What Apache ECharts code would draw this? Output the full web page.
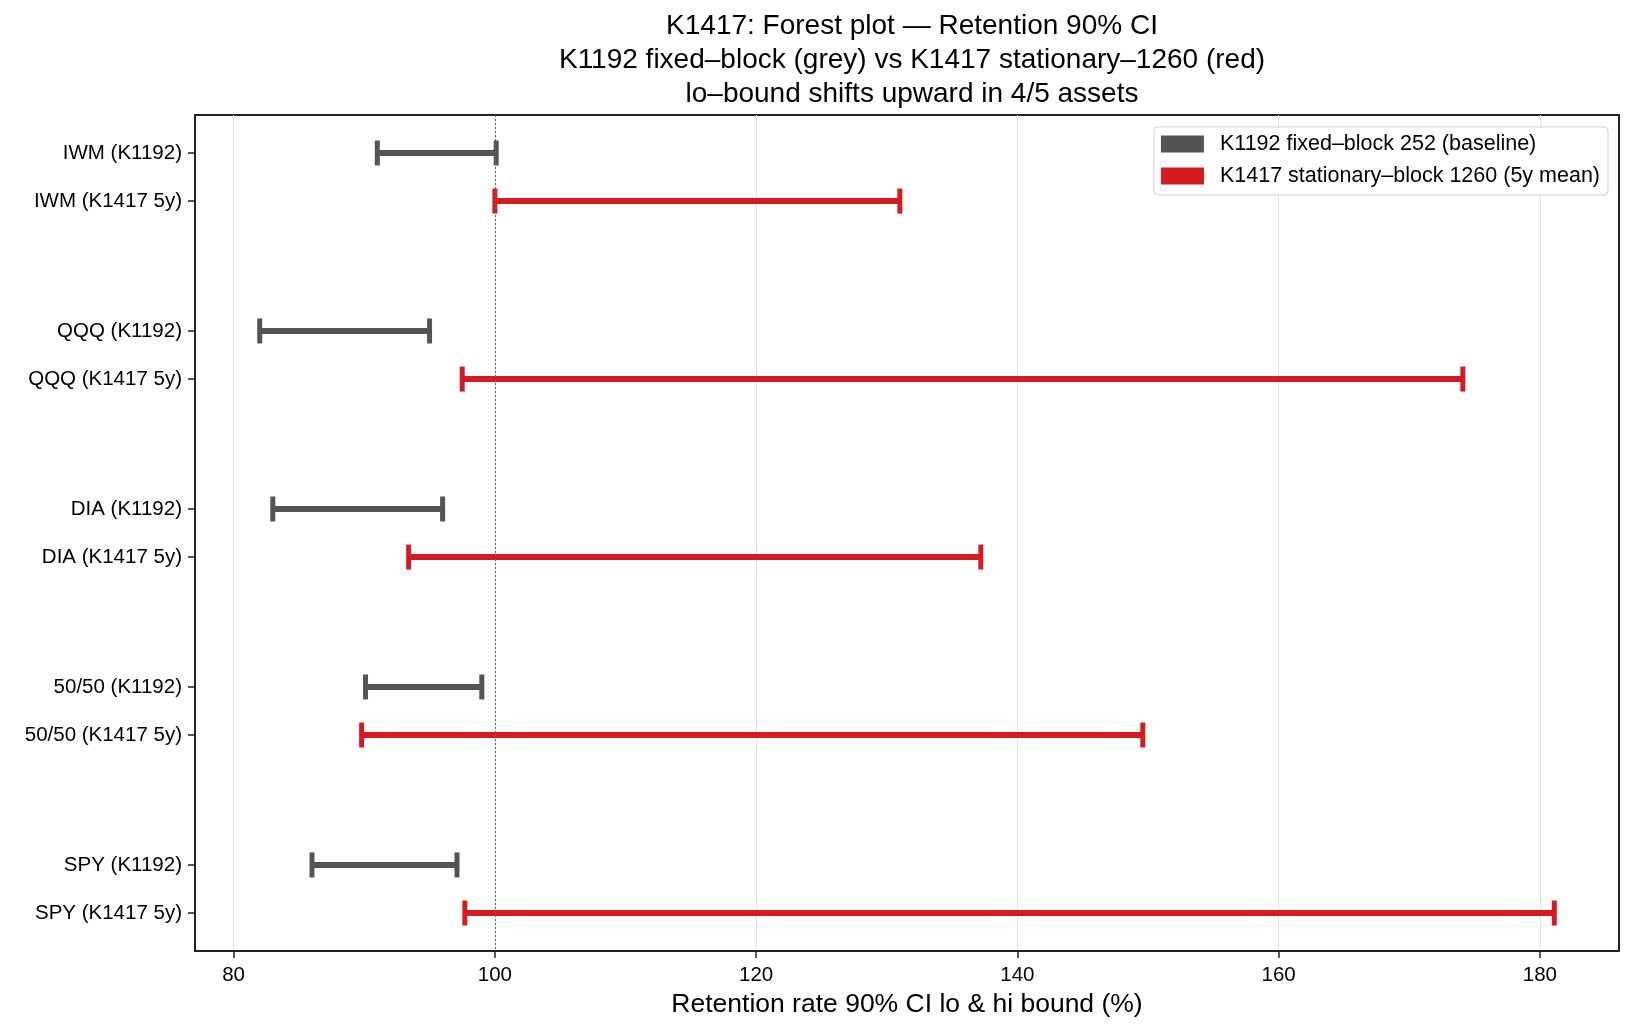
<!DOCTYPE html>
<html>
<head>
<meta charset="utf-8">
<script src="https://cdn.jsdelivr.net/npm/echarts@6/dist/echarts.min.js"></script>
<style>
  html, body { margin: 0; padding: 0; background: #fff; }
  #chart { width: 1633px; height: 1031px; }
</style>
</head>
<body>
<div id="chart"></div>
<script>
// retention 90% CI bounds
var assets = ['IWM', 'QQQ', 'DIA', '50/50', 'SPY']
var baseLo = [91.0, 82.0, 83.0, 90.1, 86.0]
var baseHi = [100.1, 95.0, 96.0, 99.0, 97.1]
var statLo = [100.0, 97.5, 93.4, 89.8, 97.7]
var statHi = [131.0, 174.1, 137.2, 149.6, 181.1]
var xTicks = [80, 100, 120, 140, 160, 180]

var baseName = 'K1192 fixed\u2013block 252 (baseline)'
var statName = 'K1417 stationary\u2013block 1260 (5y mean)'
var GREY = '#545454'
var RED = '#d71a1f'
var FONT = 'Liberation Sans, Arial, sans-serif'

// row layout: one group per asset, baseline on top, stationary below
var yPos = []
var yLabels = {}
assets.forEach(function (a, i) {
  yPos.push(i, i + 0.27)
  yLabels[i] = a + ' (K1192)'
  yLabels[i + 0.27] = a + ' (K1417 5y)'
})
var yMin = yPos[0], yMax = yPos[yPos.length - 1]
var yPad = (yMax - yMin) * 0.05

var allLo = Math.min.apply(null, baseLo.concat(statLo))
var allHi = Math.max.apply(null, baseHi.concat(statHi))
var xPad = (allHi - allLo) * 0.05

function rows(lo, hi, off) {
  return assets.map(function (a, i) { return [lo[i], hi[i], i + off] })
}

function renderCI(params, api) {
  var a = api.coord([api.value(0), api.value(2)])
  var b = api.coord([api.value(1), api.value(2)])
  var color = api.visual('color')
  var half = 12.5
  var st = { stroke: color, lineWidth: 6 }
  var cap = { stroke: color, lineWidth: 5 }
  return {
    type: 'group',
    children: [
      { type: 'line', shape: { x1: a[0], y1: a[1], x2: b[0], y2: b[1] }, style: st },
      { type: 'line', shape: { x1: a[0], y1: a[1] - half, x2: a[0], y2: a[1] + half }, style: cap },
      { type: 'line', shape: { x1: b[0], y1: b[1] - half, x2: b[0], y2: b[1] + half }, style: cap }
    ]
  }
}

var chart = echarts.init(document.getElementById('chart'))
chart.setOption({
  animation: false,
  textStyle: { fontFamily: FONT },
  title: {
    text: 'K1417: Forest plot \u2014 Retention 90% CI\nK1192 fixed\u2013block (grey) vs K1417 stationary\u20131260 (red)\nlo\u2013bound shifts upward in 4/5 assets',
    left: 907,
    top: 4,
    textAlign: 'center',
    textStyle: { fontSize: 28, fontWeight: 'normal', color: '#000', lineHeight: 34, fontFamily: FONT }
  },
  legend: {
    right: 25,
    top: 127,
    orient: 'vertical',
    align: 'left',
    icon: 'rect',
    itemWidth: 43,
    itemHeight: 17,
    itemGap: 10,
    padding: [6, 8, 8, 7],
    backgroundColor: '#fff',
    borderColor: '#d0d0d0',
    borderWidth: 1,
    borderRadius: 4,
    textStyle: { fontSize: 21.5, color: '#000', fontFamily: FONT, padding: [0, 0, 0, 11] },
    data: [baseName, statName]
  },
  grid: {
    left: 195,
    right: 14,
    top: 115,
    bottom: 80,
    show: true,
    borderColor: '#222',
    borderWidth: 2
  },
  xAxis: {
    type: 'value',
    min: allLo - xPad,
    max: allHi + xPad,
    name: 'Retention rate 90% CI lo & hi bound (%)',
    nameLocation: 'middle',
    nameGap: 37,
    nameTextStyle: { fontSize: 26.5, color: '#000', fontFamily: FONT },
    axisLine: { show: true, onZero: false, lineStyle: { color: '#222', width: 2 } },
    axisTick: { show: true, length: 7, customValues: xTicks, lineStyle: { color: '#222', width: 1.5 } },
    axisLabel: { customValues: xTicks, fontSize: 20.5, color: '#000', margin: 14, fontFamily: FONT },
    splitLine: { show: true, lineStyle: { color: '#e6e6e6', width: 1 } }
  },
  yAxis: {
    type: 'value',
    inverse: true,
    min: yMin - yPad,
    max: yMax + yPad,
    axisLine: { show: true, onZero: false, lineStyle: { color: '#222', width: 2 } },
    axisTick: { show: true, length: 7, customValues: yPos, lineStyle: { color: '#222', width: 1.5 } },
    axisLabel: {
      customValues: yPos,
      fontSize: 20.5,
      color: '#000',
      margin: 13,
      fontFamily: FONT,
      formatter: function (v) { return yLabels[v] || yLabels[Math.round(v * 100) / 100] || '' }
    },
    splitLine: { show: false }
  },
  series: [
    {
      name: baseName,
      type: 'custom',
      color: GREY,
      renderItem: renderCI,
      encode: { x: [0, 1], y: 2 },
      data: rows(baseLo, baseHi, 0),
      z: 3
    },
    {
      name: statName,
      type: 'custom',
      color: RED,
      renderItem: renderCI,
      encode: { x: [0, 1], y: 2 },
      data: rows(statLo, statHi, 0.27),
      z: 3,
      markLine: {
        silent: true,
        symbol: 'none',
        label: { show: false },
        lineStyle: { color: '#666', width: 1, type: [2, 2] },
        data: [{ xAxis: 100 }],
        z: 5
      }
    }
  ]
})
</script>
</body>
</html>
